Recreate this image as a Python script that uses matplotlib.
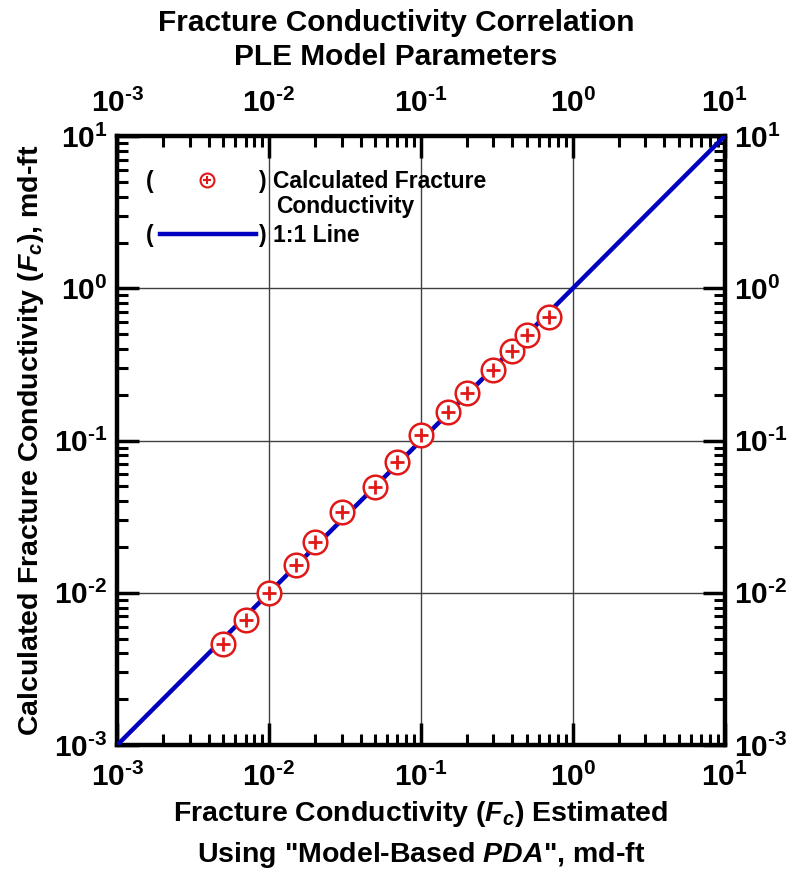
import numpy as np
import matplotlib
matplotlib.use("Agg")
from matplotlib import pyplot as plt
from matplotlib.ticker import LogLocator, FuncFormatter, NullFormatter

# estimated vs calculated fracture conductivity, md-ft
fc_est = [0.005, 0.007, 0.01, 0.015, 0.02, 0.03, 0.05, 0.07, 0.1, 0.15, 0.2, 0.3, 0.4, 0.5, 0.7]
fc_calc = [0.0046, 0.0066, 0.0099, 0.0152, 0.0215, 0.034, 0.0495, 0.072, 0.108, 0.153, 0.205, 0.292, 0.385, 0.495, 0.645]
line_x = [1e-3, 1e1]
line_y = [1e-3, 1e1]

plt.rcParams['font.family'] = 'Liberation Sans'
plt.rcParams['font.weight'] = 'bold'
plt.rcParams['mathtext.fontset'] = 'custom'
plt.rcParams['mathtext.rm'] = 'Liberation Sans:bold'
plt.rcParams['mathtext.bf'] = 'Liberation Sans:bold'
plt.rcParams['mathtext.it'] = 'Liberation Sans:bold:italic'
plt.rcParams['mathtext.default'] = 'bf'

fig = plt.figure(figsize=(7.92, 8.73), dpi=100)
ax = fig.add_axes([0.148, 0.1466, 0.767, 0.6975])

ax.plot(line_x, line_y, color='#0000c0', lw=3.2, zorder=3, solid_capstyle='butt')
ax.plot(fc_est, fc_calc, 'o', ms=17, mfc='white', mec='#e01818', mew=1.8, zorder=4)
ax.plot(fc_est, fc_calc, '+', ms=10, color='#e01818', mew=2, zorder=5)

ax.set_xscale('log')
ax.set_yscale('log')
ax.set_xlim(1e-3, 1e1)
ax.set_ylim(1e-3, 1e1)

fmt = FuncFormatter(lambda v, p: r'$10^{\text{%d}}$' % int(round(np.log10(v))))
for a in (ax.xaxis, ax.yaxis):
    a.set_major_locator(LogLocator(base=10, numticks=10))
    a.set_minor_locator(LogLocator(base=10, subs=np.arange(2, 10), numticks=10))
    a.set_major_formatter(fmt)
    a.set_minor_formatter(NullFormatter())

ax.tick_params(which='both', direction='in', top=True, right=True,
               labeltop=True, labelright=True, labelsize=21.5)
ax.tick_params(which='major', length=16, width=2.5)
ax.tick_params(which='minor', length=8, width=2.2)
ax.tick_params(axis='x', which='major', pad=13)
ax.tick_params(axis='y', which='major', pad=7)
for s in ax.spines.values():
    s.set_linewidth(3.2)

ax.grid(True, which='major', color='#404040', lw=1)

ax.set_xlabel('Fracture Conductivity ($\\mathit{F_c}$) Estimated\nUsing "Model-Based $\\mathit{PDA}$", md-ft',
              fontsize=20.5, fontweight='bold', linespacing=1.5, labelpad=5)
ax.set_ylabel('Calculated Fracture Conductivity ($\\mathit{F_c}$), md-ft',
              fontsize=20.5, fontweight='bold', labelpad=6)
fig.text(0.5, 0.99, 'Fracture Conductivity Correlation\nPLE Model Parameters',
         ha='center', va='top', fontsize=21.5, fontweight='bold', linespacing=1.3)

# legend built by hand with brackets
tr = ax.transAxes
fs = 16.5
ax.text(0.054, 0.926, '(', transform=tr, fontsize=fs, va='center', ha='center')
ax.plot([0.148], [0.928], 'o', ms=10, mfc='white', mec='#e01818', mew=1.5, transform=tr)
ax.plot([0.148], [0.928], '+', ms=6, color='#e01818', mew=1.5, transform=tr)
ax.text(0.240, 0.926, ')', transform=tr, fontsize=fs, va='center', ha='center')
ax.text(0.256, 0.926, 'Calculated Fracture', transform=tr, fontsize=fs, va='center', ha='left')
ax.text(0.262, 0.884, 'Conductivity', transform=tr, fontsize=fs, va='center', ha='left')
ax.text(0.054, 0.837, '(', transform=tr, fontsize=fs, va='center', ha='center')
ax.plot([0.071, 0.228], [0.839, 0.839], color='#0000c0', lw=3.2, transform=tr)
ax.text(0.240, 0.837, ')', transform=tr, fontsize=fs, va='center', ha='center')
ax.text(0.256, 0.837, '1:1 Line', transform=tr, fontsize=fs, va='center', ha='left')

plt.savefig('out.png', dpi=100)
